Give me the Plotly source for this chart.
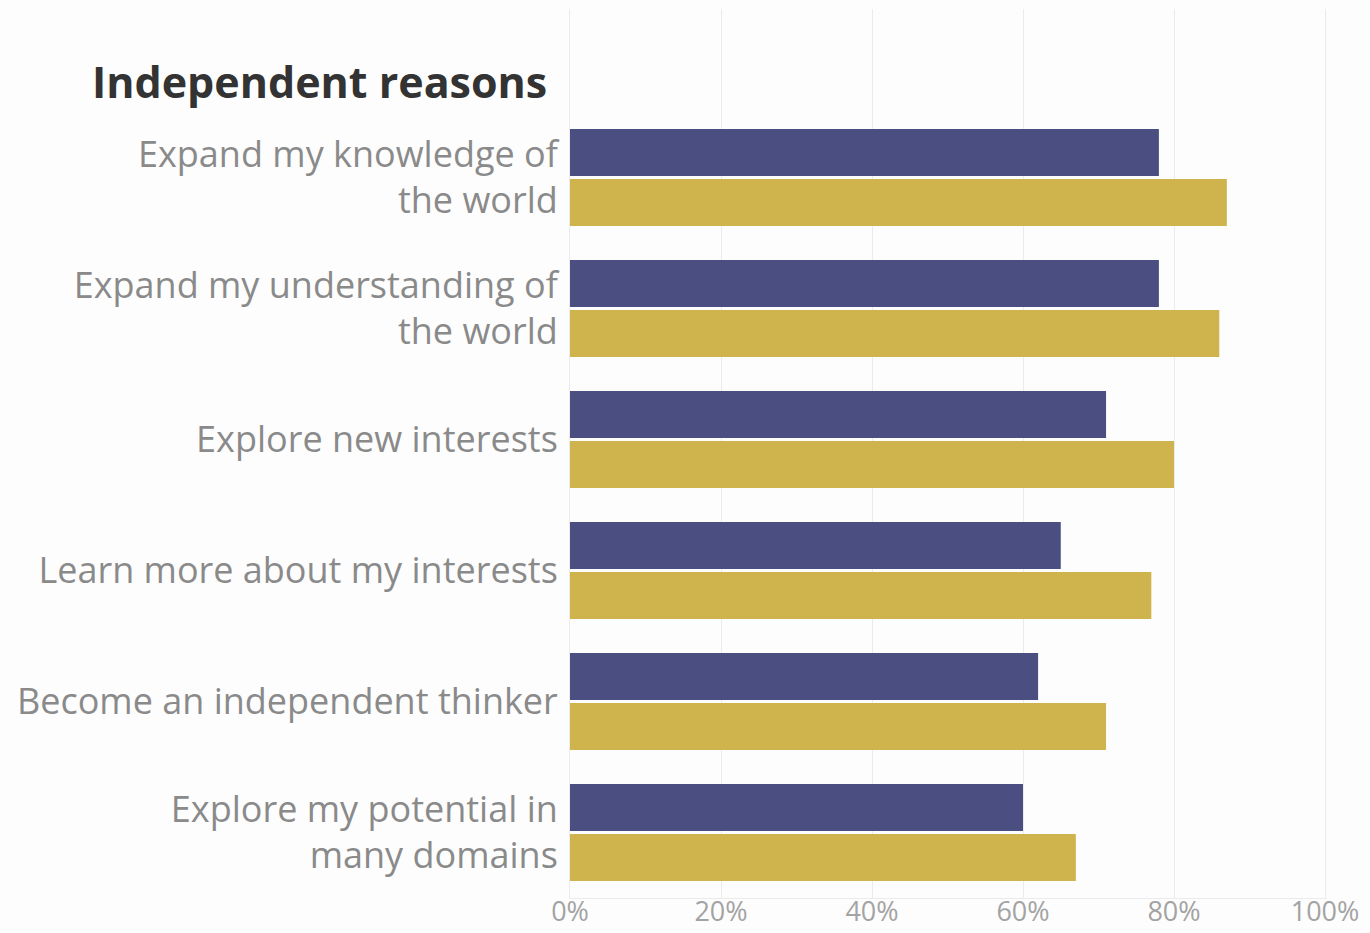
import plotly.graph_objects as go

categories = [
    "Expand my knowledge of<br>the world",
    "Expand my understanding of<br>the world",
    "Explore new interests",
    "Learn more about my interests",
    "Become an independent thinker",
    "Explore my potential in<br>many domains",
]
navy_values = [78, 78, 71, 65, 62, 60]
gold_values = [87, 86, 80, 77, 71, 67]
x_ticks = [0, 20, 40, 60, 80, 100]
x_tick_labels = ["0%", "20%", "40%", "60%", "80%", "100%"]
title_text = "Independent reasons"

# plot bottom-to-top so first category sits on top
cats_bt = categories[::-1]
navy_bt = navy_values[::-1]
gold_bt = gold_values[::-1]

NAVY = "#4a4e80"
GOLD = "#cfb44e"
FONT = "Open Sans"
GRID = "#ebebeb"

fig = go.Figure()
fig.add_trace(go.Bar(y=cats_bt, x=gold_bt, orientation="h", marker=dict(color=GOLD, line=dict(width=0)),
                     showlegend=False, hoverinfo="x+y"))
fig.add_trace(go.Bar(y=cats_bt, x=navy_bt, orientation="h", marker=dict(color=NAVY, line=dict(width=0)),
                     showlegend=False, hoverinfo="x+y"))

fig.update_layout(
    width=1370, height=933,
    margin=dict(l=570, r=45, t=9, b=35),
    paper_bgcolor="#fdfdfd", plot_bgcolor="#fdfdfd",
    barmode="group", bargap=0.237, bargroupgap=0.06,
    font=dict(family=FONT, color="#8a8a8a"),
    xaxis=dict(range=[0, 100], tickvals=x_ticks, ticktext=x_tick_labels,
               showgrid=True, gridcolor=GRID, gridwidth=1,
               zeroline=False, showline=True, linecolor=GRID, linewidth=1,
               tickfont=dict(size=27, color="#a3a3a3", family=FONT), ticks="",
               ticklabelstandoff=-10, automargin=False, fixedrange=True),
    yaxis=dict(range=[-0.5, 6.286], showgrid=False, zeroline=False,
               showline=True, mirror=True, linecolor=GRID, linewidth=1,
               tickfont=dict(size=36, color="#8a8a8a", family=FONT), ticks="",
               ticklabelstandoff=4, automargin=False, fixedrange=True),
    annotations=[dict(text="<b>" + title_text + "</b>", xref="paper", yref="paper",
                      x=-0.028, y=0.918, xanchor="right", yanchor="middle", showarrow=False,
                      font=dict(size=43, color="#333333", family=FONT))],
)

fig.write_html("out.html")
